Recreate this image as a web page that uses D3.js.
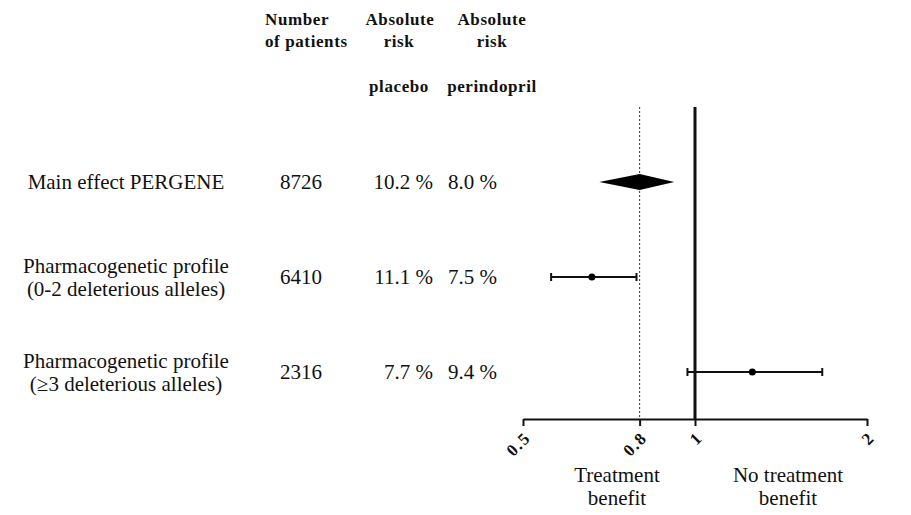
<!DOCTYPE html>
<html>
<head>
<meta charset="utf-8">
<script src="https://cdn.jsdelivr.net/npm/d3@7"></script>
<style>
  body { margin: 0; background: #fff; }
  svg text { font-family: "Liberation Serif", "Times New Roman", serif; fill: #111; }
</style>
</head>
<body>
<div id="chart"></div>
<script>
// data
var categories = [
  ["Main effect PERGENE"],
  ["Pharmacogenetic profile", "(0-2 deleterious alleles)"],
  ["Pharmacogenetic profile", "(\u22653 deleterious alleles)"]
];
var patients = [8726, 6410, 2316];
var placeboRisk = ["10.2 %", "11.1 %", "7.7 %"];
var perindoprilRisk = ["8.0 %", "7.5 %", "9.4 %"];
var estimate = [0.80, 0.66, 1.26];
var lower = [0.68, 0.56, 0.97];
var upper = [0.92, 0.79, 1.67];
var tickValues = [0.5, 0.8, 1, 2];

var width = 911, height = 515;
var svg = d3.select("#chart").append("svg")
  .attr("width", width)
  .attr("height", height);

var x = d3.scaleLog().domain([0.5, 2]).range([523, 867]);
var y = d3.scalePoint().domain(d3.range(categories.length)).range([182, 372]);
var axisY = 419, topY = 107;

// header
var header = svg.append("g").style("font-weight", "bold").style("font-size", "17px")
  .style("letter-spacing", "0.6px");
function head(txt, xp, yp, anchor) {
  header.append("text").attr("x", xp).attr("y", yp)
    .attr("text-anchor", anchor || "middle").text(txt);
}
head("Number", 265, 25, "start");
head("of patients", 265, 47, "start");
head("Absolute", 400, 25);
head("risk", 399, 47);
head("Absolute", 492, 25);
head("risk", 492, 47);
head("placebo", 399, 92);
head("perindopril", 492, 92);

// row labels and columns
var rows = svg.append("g").style("font-size", "21px");
categories.forEach(function(lines, i) {
  var cy = y(i);
  var t = rows.append("text").attr("text-anchor", "middle");
  var start = cy + 7 - (lines.length - 1) * 11.5;
  lines.forEach(function(l, j) {
    t.append("tspan").attr("x", 126).attr("y", start + j * 23).text(l);
  });
  rows.append("text").attr("x", 301).attr("y", cy + 7)
    .attr("text-anchor", "middle").text(patients[i]);
  rows.append("text").attr("x", 433).attr("y", cy + 7)
    .attr("text-anchor", "end").text(placeboRisk[i]);
  rows.append("text").attr("x", 497).attr("y", cy + 7)
    .attr("text-anchor", "end").text(perindoprilRisk[i]);
});

// reference lines
svg.append("line")
  .attr("x1", x(0.8)).attr("x2", x(0.8))
  .attr("y1", topY).attr("y2", axisY)
  .attr("stroke", "#333").attr("stroke-width", 1)
  .attr("stroke-dasharray", "2,2");

// axis
var axis = d3.axisBottom(x)
  .tickValues(tickValues)
  .tickFormat(function(d) { return d; })
  .tickSize(7)
  .tickSizeOuter(0);
var gAxis = svg.append("g")
  .attr("transform", "translate(0," + axisY + ")")
  .call(axis);
gAxis.select(".domain").attr("stroke", "#111").attr("stroke-width", 2);
gAxis.selectAll(".tick line").attr("stroke", "#111").attr("stroke-width", 2);
gAxis.selectAll(".tick text")
  .attr("font-family", "'Liberation Serif', serif")
  .attr("font-weight", "bold")
  .attr("font-size", 17)
  .style("font-size", "17px")
  .style("font-weight", "bold")
  .style("letter-spacing", "1.5px")
  .attr("fill", "#111")
  .attr("text-anchor", "end")
  .attr("y", 0)
  .attr("dy", 0)
  .attr("transform", "translate(8,20) rotate(-45)");

svg.append("line")
  .attr("x1", x(1)).attr("x2", x(1))
  .attr("y1", topY).attr("y2", axisY)
  .attr("stroke", "#111").attr("stroke-width", 3);

// marks
var marks = svg.append("g");
estimate.forEach(function(v, i) {
  var cy = y(i);
  if (i === 0) {
    marks.append("path")
      .attr("d", "M" + x(lower[i]) + "," + cy +
        "L" + x(v) + "," + (cy - 8) +
        "L" + x(upper[i]) + "," + cy +
        "L" + x(v) + "," + (cy + 8) + "Z")
      .attr("fill", "#000");
  } else {
    marks.append("line")
      .attr("x1", x(lower[i])).attr("x2", x(upper[i]))
      .attr("y1", cy).attr("y2", cy)
      .attr("stroke", "#111").attr("stroke-width", 2);
    [lower[i], upper[i]].forEach(function(e) {
      marks.append("line")
        .attr("x1", x(e)).attr("x2", x(e))
        .attr("y1", cy - 4).attr("y2", cy + 4)
        .attr("stroke", "#111").attr("stroke-width", 2);
    });
    marks.append("circle")
      .attr("cx", x(v)).attr("cy", cy).attr("r", 3.5)
      .attr("fill", "#000");
  }
});

// bottom labels
var foot = svg.append("g").style("font-size", "21px").attr("text-anchor", "middle");
foot.append("text").attr("x", 617).attr("y", 482).text("Treatment");
foot.append("text").attr("x", 617).attr("y", 505).text("benefit");
foot.append("text").attr("x", 788).attr("y", 482).text("No treatment");
foot.append("text").attr("x", 788).attr("y", 505).text("benefit");
</script>
</body>
</html>
